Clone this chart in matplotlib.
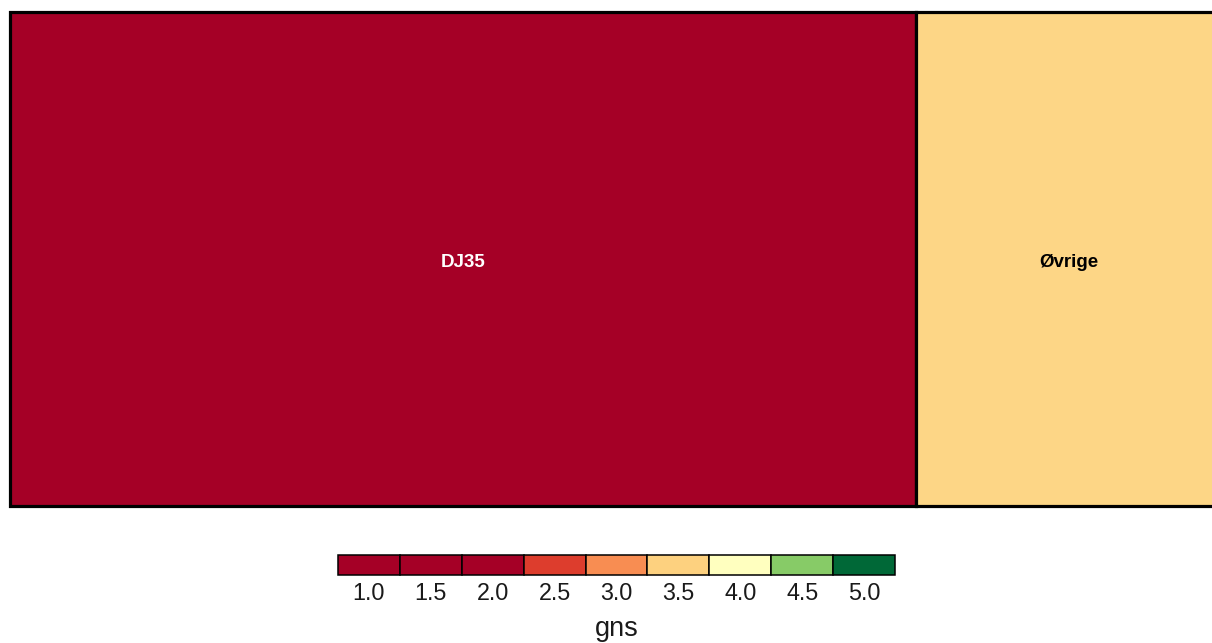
import matplotlib
matplotlib.use("Agg")
import matplotlib.pyplot as plt
from matplotlib.patches import Rectangle
from matplotlib.colors import LinearSegmentedColormap

plt.rcParams['font.family'] = ['Liberation Sans', 'DejaVu Sans']

# Data
labels = ['DJ35', 'Øvrige']
sizes = [74.75, 25.25]
gns = [1.5, 3.55]
legend_ticks = [1.0, 1.5, 2.0, 2.5, 3.0, 3.5, 4.0, 4.5, 5.0]
legend_colors = ['#A50026', '#A50026', '#A50026', '#DD3D2D', '#F88D52',
                 '#FDD17F', '#FFFFBF', '#87CB67', '#006837']
legend_title = 'gns'
label_colors = ['white', 'black']

W, H = 1212, 643
fig = plt.figure(figsize=(W / 100, H / 100), dpi=100)

cmap = LinearSegmentedColormap.from_list(
    'gns', list(zip([(t - 1.0) / 4.0 for t in legend_ticks], legend_colors)))

# Treemap axes (extends slightly past right edge, as in reference)
x0, x1, ytop, ybot = 10, 1222, 12, 506
ax = fig.add_axes([x0 / W, 1 - ybot / H, (x1 - x0) / W, (ybot - ytop) / H])
ax.set_xlim(0, sum(sizes))
ax.set_ylim(0, 1)
ax.axis('off')
left = 0
for lab, s, g, tc in zip(labels, sizes, gns, label_colors):
    ax.add_patch(Rectangle((left, 0), s, 1, facecolor=cmap((g - 1) / 4),
                           edgecolor='black', linewidth=2.3, clip_on=False))
    ax.text(left + s / 2, 0.493, lab, ha='center', va='center',
            fontsize=13.5, fontweight='bold', color=tc)
    left += s

# Legend
lx0, lx1, ly0, ly1 = 338, 895, 555, 575
lax = fig.add_axes([lx0 / W, 1 - ly1 / H, (lx1 - lx0) / W, (ly1 - ly0) / H])
n = len(legend_ticks)
lax.set_xlim(0, n)
lax.set_ylim(0, 1)
lax.axis('off')
for i, (t, c) in enumerate(zip(legend_ticks, legend_colors)):
    lax.add_patch(Rectangle((i, 0), 1, 1, facecolor=c, edgecolor='black',
                            linewidth=1.1, clip_on=False))
    lax.text(i + 0.5, -0.35, f'{t:.1f}', ha='center', va='top', fontsize=16.8,
             color='#1a1a1a')
lax.text(n / 2, -2.05, legend_title, ha='center', va='top', fontsize=19.5,
         color='#1a1a1a')

fig.savefig('out.png', dpi=100)
